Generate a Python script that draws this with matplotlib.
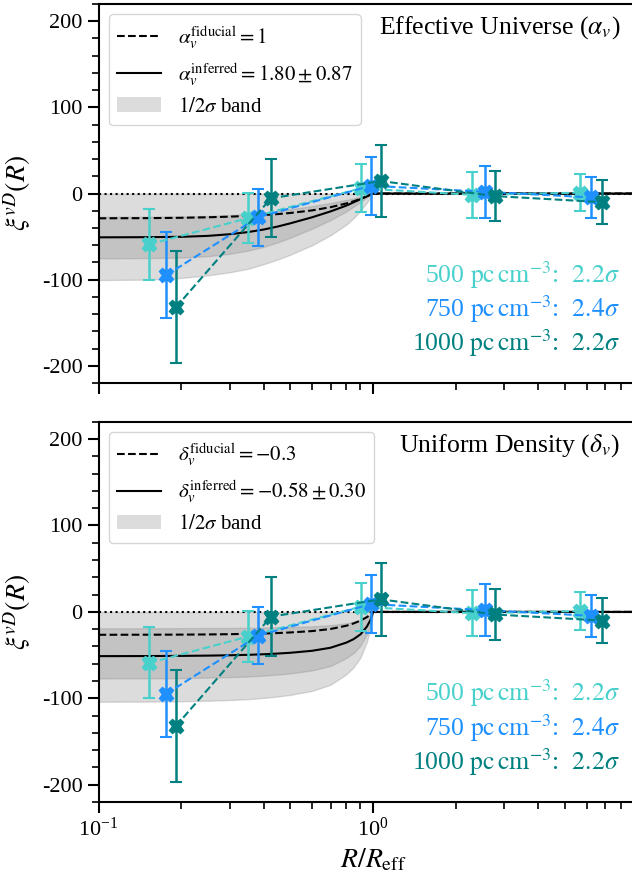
import matplotlib
matplotlib.use("Agg")
import matplotlib.pyplot as plt
from matplotlib.patches import Patch
from matplotlib.lines import Line2D

plt.rcParams.update({
    "font.family": ["Liberation Serif", "DejaVu Serif"],
    "mathtext.fontset": "stix",
    "axes.unicode_minus": False,
    "axes.linewidth": 1.5,
    "xtick.major.width": 1.5,
    "ytick.major.width": 1.5,
    "xtick.minor.width": 1.2,
    "ytick.minor.width": 1.2,
    "xtick.major.size": 8,
    "ytick.major.size": 8,
    "xtick.minor.size": 5,
    "ytick.minor.size": 5,
    "xtick.labelsize": 16,
    "ytick.labelsize": 16,
})

# ---- stacked void-galaxy cross-correlation measurements ----
densities = [500, 750, 1000]
significance = [2.2, 2.4, 2.2]
colors = ["#48D1CC", "#1E90FF", "#008080"]

r_500 = [0.153, 0.351, 0.902, 2.30, 5.68]
xi_500 = [-59, -28.5, 6, -1.5, 1]
err_500 = [41, 29.5, 28, 26.5, 21.5]

r_750 = [0.176, 0.382, 0.981, 2.56, 6.22]
xi_750 = [-95, -27.5, 9, 2, -4.5]
err_750 = [50, 33, 33.5, 30, 24]

r_1000 = [0.1915, 0.425, 1.067, 2.78, 6.81]
xi_1000 = [-132, -5.5, 14.5, -3, -10]
err_1000 = [65, 45.5, 42, 29, 25.5]

# ---- model profiles (shared radial grid) ----
r_model = [0.1, 0.15, 0.2, 0.25, 0.3, 0.35, 0.4, 0.45, 0.5, 0.6, 0.7,
           0.8, 0.85, 0.9, 0.95, 0.98, 1.0, 10.0]

# Effective Universe (alpha_v)
eu_fiducial = [-28.8, -28.6, -28.2, -27.6, -26.9, -26.0, -25.0, -23.9, -22.6,
               -19.6, -15.9, -11.5, -9.0, -6.2, -3.2, -1.2, 0.0, 0.0]
eu_inferred = [-50.9, -50.7, -50.3, -49.2, -47.3, -44.8, -41.8, -38.3, -34.6,
               -27.6, -20.8, -14.0, -10.2, -6.6, -3.2, -1.3, 0.0, 0.0]
eu_1s_hi = [-27.0, -26.9, -26.7, -26.1, -25.1, -23.7, -22.2, -20.3, -18.3,
            -14.6, -11.0, -7.4, -5.4, -3.5, -1.7, -0.7, 0.0, 0.0]
eu_1s_lo = [-75.3, -75.0, -74.4, -72.8, -70.0, -66.3, -61.9, -56.7, -51.2,
            -40.8, -30.8, -20.7, -15.1, -9.8, -4.7, -1.9, 0.0, 0.0]
eu_2s_hi = [0.0] * 18
eu_2s_lo = [-100.5, -100.0, -98.0, -95.0, -91.5, -87.5, -82.0, -76.5, -71.0,
            -60.0, -48.5, -36.0, -28.5, -20.0, -10.5, -4.0, 0.0, 0.0]

# Uniform Density (delta_v)
ud_fiducial = [-26.5, -26.4, -26.3, -26.1, -25.8, -25.4, -25.0, -24.5, -23.8,
               -22.2, -19.8, -16.0, -13.3, -10.0, -6.0, -3.0, 0.0, 0.0]
ud_inferred = [-51.2, -51.1, -50.9, -50.6, -50.2, -49.7, -49.0, -48.2, -47.3,
               -45.0, -41.5, -35.5, -31.5, -26.0, -17.0, -9.0, 0.0, 0.0]
ud_1s_hi = [-19.0, -18.9, -18.8, -18.7, -18.6, -18.4, -18.1, -17.8, -17.5,
            -16.7, -15.4, -13.1, -11.7, -9.6, -6.3, -3.3, 0.0, 0.0]
ud_1s_lo = [-77.0, -76.9, -76.6, -76.1, -75.5, -74.8, -73.7, -72.5, -71.2,
            -67.7, -62.5, -53.4, -47.4, -39.1, -25.6, -13.5, 0.0, 0.0]
ud_2s_hi = [0.0] * 18
ud_2s_lo = [-104.0, -103.8, -103.4, -102.8, -102.0, -101.0, -99.5, -97.9, -96.0,
            -91.4, -84.3, -72.1, -64.0, -52.8, -34.5, -18.3, 0.0, 0.0]

panels = [
    dict(title=r"Effective Universe ($\alpha_v$)",
         fid_label=r"$\alpha_v^{\rm fiducial} = 1$",
         inf_label=r"$\alpha_v^{\rm inferred} = 1.80 \pm 0.87$",
         fid=eu_fiducial, inf=eu_inferred,
         s1=(eu_1s_lo, eu_1s_hi), s2=(eu_2s_lo, eu_2s_hi)),
    dict(title=r"Uniform Density ($\delta_v$)",
         fid_label=r"$\delta_v^{\rm fiducial} = -0.3$",
         inf_label=r"$\delta_v^{\rm inferred} = -0.58 \pm 0.30$",
         fid=ud_fiducial, inf=ud_inferred,
         s1=(ud_1s_lo, ud_1s_hi), s2=(ud_2s_lo, ud_2s_hi)),
]

series = [(r_500, xi_500, err_500), (r_750, xi_750, err_750),
          (r_1000, xi_1000, err_1000)]

band_color = "gray"
band_alpha = 0.27

fig = plt.figure(figsize=(6.32, 8.75), dpi=100)
ax_top = fig.add_axes([0.1559, 0.5623, 0.8687, 0.4331])
ax_bot = fig.add_axes([0.1559, 0.0834, 0.8687, 0.4346], sharex=ax_top)

for ax, p in zip([ax_top, ax_bot], panels):
    ax.fill_between(r_model, p["s2"][0], p["s2"][1], color=band_color,
                    alpha=band_alpha, zorder=1)
    ax.fill_between(r_model, p["s1"][0], p["s1"][1], color=band_color,
                    alpha=band_alpha, zorder=1)
    ax.axhline(0, color="k", ls=":", lw=1.5, zorder=2)
    ax.plot(r_model, p["fid"], color="k", ls="--", lw=1.5, zorder=3)
    ax.plot(r_model, p["inf"], color="k", ls="-", lw=1.5, zorder=3)

    for (r, xi, err), c in zip(series, colors):
        ax.errorbar(r, xi, yerr=err, color=c, ls="--", lw=1.5, marker="X",
                    ms=10.5, capsize=4.5, capthick=1.5, elinewidth=1.8,
                    zorder=5)

    handles = [
        Line2D([], [], color="k", ls="--", lw=1.5),
        Line2D([], [], color="k", ls="-", lw=1.5),
        Patch(facecolor=band_color, alpha=band_alpha, edgecolor="none"),
    ]
    labels = [p["fid_label"], p["inf_label"], r"$1/2\sigma$ band"]
    ax.legend(handles, labels, loc="upper left", fontsize=15,
              handlelength=2.1, labelspacing=0.45, borderaxespad=0.5)

    ax.text(0.95, 0.972, p["title"], transform=ax.transAxes, ha="right",
            va="top", fontsize=18.5)

    for k, (d, s, c) in enumerate(zip(densities, significance, colors)):
        ax.text(0.95, 0.265 - 0.09 * k,
                f"{d} " + r"${\rm pc\,cm^{-3}}$:  " + f"${s}\\sigma$",
                transform=ax.transAxes, ha="right", va="baseline",
                color=c, fontsize=18.5)

    ax.set_xscale("log")
    ax.set_xlim(0.1, 10)
    ax.set_xticks([0.1, 1])
    ax.set_ylim(-220, 220)
    ax.set_yticks([-200, -100, 0, 100, 200])
    ax.set_yticks(range(-220, 221, 20), minor=True)
    ax.set_ylabel(r"$\xi^{vD}(R)$", fontsize=20, labelpad=6)
    ax.tick_params(which="both", direction="out")

ax_top.tick_params(labelbottom=False)
ax_bot.set_xlabel(r"$R/R_{\rm eff}$", fontsize=20)

fig.savefig("out.png", dpi=100)
